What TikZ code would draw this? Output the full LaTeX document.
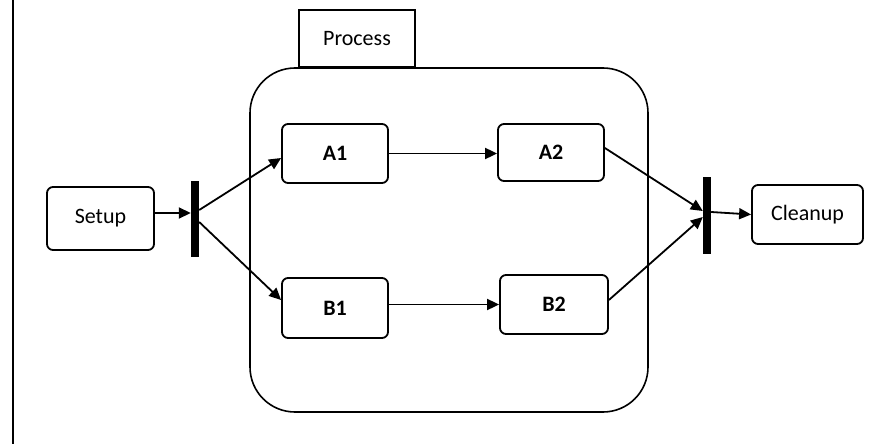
\documentclass[tikz,border=0pt]{standalone}
\usepackage{fontspec}
\setmainfont{Carlito}
\usetikzlibrary{arrows.meta}
\begin{document}
\begin{tikzpicture}[x=1pt,y=-1pt,
  box/.style={draw,line width=1.8pt,rounded corners=6pt,inner sep=0pt,font=\fontsize{22}{25}\selectfont},
  bbox/.style={box,font=\fontsize{22}{25}\selectfont\bfseries},
  bar/.style={fill=black,draw=none,minimum width=8pt,inner sep=0pt},
  arr/.style={line width=1.8pt,-{Triangle[length=12pt,width=11pt]}}]
\useasboundingbox (0,0) rectangle (892,444);
\draw[line width=2.5pt] (13,0) -- (13,444);
\node[draw,line width=1.6pt,rounded corners=45pt,minimum width=398pt,minimum height=344pt] (proc) at (449,240) {};
\node[draw,line width=1.8pt,fill=white,minimum width=116pt,minimum height=57pt,inner sep=0pt,font=\fontsize{22}{25}\selectfont,anchor=south] (tab) at (357,68) {Process};
\node[box,minimum width=107pt,minimum height=63pt] (setup) at (100.5,218.5) {Setup};
\node[bbox,minimum width=106pt,minimum height=59pt] (a1) at (335,153.5) {A1};
\node[bbox,minimum width=106pt,minimum height=57pt] (a2) at (551,152.5) {A2};
\node[bbox,minimum width=106pt,minimum height=60pt] (b1) at (335,308) {B1};
\node[bbox,minimum width=108pt,minimum height=59pt] (b2) at (554,304.5) {B2};
\node[box,minimum width=111pt,minimum height=59pt] (cleanup) at (807.5,214.5) {Cleanup};
\node[bar,minimum height=76pt] (fork) at (195,219) {};
\node[bar,minimum height=77pt] (join) at (707,215.5) {};
\draw[arr] ([yshift=5.5pt]setup.east) -- ([yshift=5.5pt]setup.east -| fork.west);
\draw[arr] ([yshift=9pt]fork.east) -- ([yshift=-4.5pt]a1.west);
\draw[arr] ([yshift=-3pt]fork.east) -- ([yshift=8pt]b1.west);
\draw[arr] (a1.east) -- (a1.east -| a2.west);
\draw[arr] (b2.west -| b1.east) -- (b2.west);
\draw[arr] ([yshift=4.5pt]a2.east) -- ([yshift=4.5pt]join.west);
\draw[arr] ([yshift=4.5pt]b2.east) -- ([yshift=-1.5pt]join.west);
\draw[arr] ([yshift=3.5pt]join.east) -- (cleanup.west);
\end{tikzpicture}
\end{document}
